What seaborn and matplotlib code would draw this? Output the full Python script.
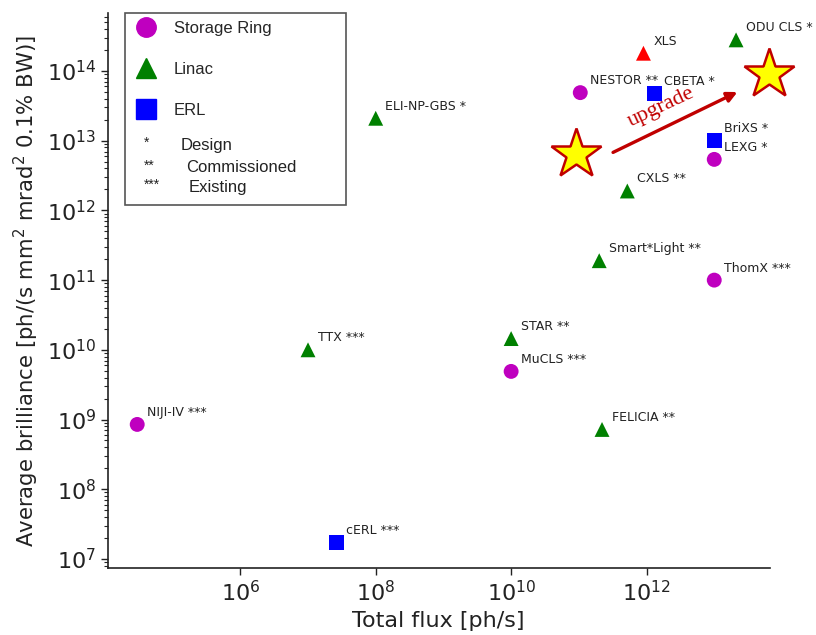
import matplotlib
matplotlib.use("Agg")
import matplotlib.pyplot as plt
import seaborn as sns
import pandas as pd
import numpy as np
from matplotlib.lines import Line2D
from matplotlib.patches import Rectangle
from matplotlib.ticker import NullLocator, FixedLocator

# ---------------- data ----------------
names = ["NIJI-IV ***", "TTX ***", "ELI-NP-GBS *", "cERL ***", "STAR **",
         "MuCLS ***", "FELICIA **", "Smart*Light **", "CXLS **", "ThomX ***",
         "LEXG *", "BriXS *", "NESTOR **", "CBETA *", "XLS", "ODU CLS *"]
types = ["Storage Ring", "Linac", "Linac", "ERL", "Linac",
         "Storage Ring", "Linac", "Linac", "Linac", "Storage Ring",
         "Storage Ring", "ERL", "Storage Ring", "ERL", "XLS", "Linac"]
flux = [3e4, 1e7, 1e8, 2.6e7, 1e10,
        1e10, 2.2e11, 2e11, 5.2e11, 1e13,
        1e13, 1e13, 1.05e11, 1.3e12, 9e11, 2.1e13]
brilliance = [8.5e8, 1e10, 2.1e13, 1.7e7, 1.45e10,
              4.9e9, 7.2e8, 1.9e11, 1.9e12, 1e11,
              5.4e12, 1e13, 4.9e13, 4.8e13, 1.8e14, 2.8e14]

star_flux = [9e10, 6.5e13]
star_brilliance = [6.5e12, 9e13]
arrow_start = (3.2e11, 6.8e12)
arrow_end = (2.2e13, 5e13)
upgrade_pos = (1.65e12, 3.0e13)

legend_labels = ["Storage Ring", "Linac", "ERL"]
status_marks = ["*", "**", "***"]
status_labels = ["Design", "Commissioned", "Existing"]

x_ticks = [1e6, 1e8, 1e10, 1e12]
y_ticks = [1e7, 1e8, 1e9, 1e10, 1e11, 1e12, 1e13, 1e14]

# ---------------- style ----------------
sns.set_style("ticks")
plt.rcParams["font.family"] = ["DejaVu Sans"]

palette = {"Storage Ring": "#bf00bf", "Linac": "#008000", "ERL": "#0000ff", "XLS": "#ff0000"}
markers = {"Storage Ring": "o", "Linac": "^", "ERL": "s", "XLS": "^"}

df = pd.DataFrame({"name": names, "type": types, "flux": flux, "brilliance": brilliance})

fig = plt.figure(figsize=(8.16, 6.35), dpi=100)
ax = fig.add_axes([0.132, 0.1055, 0.8113, 0.874])

sns.scatterplot(data=df, x="flux", y="brilliance", hue="type", style="type",
                palette=palette, markers=markers, s=115, linewidth=0,
                legend=False, ax=ax, zorder=3)

ax.set_xscale("log")
ax.set_yscale("log")
ylim = (7.4e6, 6.8e14)
ax.set_xlim(1.1e4, 6.6e13)
ax.set_ylim(*ylim)

for n, fx, by in zip(names, flux, brilliance):
    ax.annotate(n, (fx, by), xytext=(7, 4), textcoords="offset points",
                ha="left", va="bottom", fontsize=9, color="#222222")

# stars and upgrade arrow
ax.plot(star_flux, star_brilliance, linestyle="none", marker="*", markersize=38,
        markerfacecolor="#ffff00", markeredgecolor="#c00000", markeredgewidth=1.8,
        clip_on=False, zorder=4)
ax.annotate("", xy=arrow_end, xytext=arrow_start,
            arrowprops=dict(arrowstyle="-|>", color="#c00000", lw=2.4,
                            mutation_scale=15, shrinkA=0, shrinkB=0), zorder=4)
ax.text(upgrade_pos[0], upgrade_pos[1], "upgrade", rotation=25, rotation_mode="anchor",
        ha="center", va="center", fontsize=16, color="#c00000", family="Liberation Serif")

# axes styling
sns.despine(ax=ax)
ax.xaxis.set_major_locator(FixedLocator(x_ticks))
ax.xaxis.set_minor_locator(NullLocator())
ax.yaxis.set_major_locator(FixedLocator(y_ticks))
minor_y = [m * 10.0 ** d for d in range(6, 15) for m in range(2, 10)]
minor_y = [v for v in minor_y if ylim[0] <= v <= ylim[1]]
ax.yaxis.set_minor_locator(FixedLocator(minor_y))
ax.tick_params(axis="both", which="major", labelsize=16, length=5, width=1, colors="#222222")
ax.tick_params(axis="y", which="minor", length=3, width=0.8, labelleft=False)
for sp in ax.spines.values():
    sp.set_color("#222222")
    sp.set_linewidth(1.2)

ax.set_xlabel("Total flux [ph/s]", fontsize=16, color="#222222", labelpad=4)
ax.set_ylabel("Average brilliance [ph/(s mm$^2$ mrad$^2$ 0.1% BW)]", fontsize=15.3,
              color="#222222", labelpad=4)

# legend box
ax.add_patch(Rectangle((0.026, 0.654), 0.334, 0.346, transform=ax.transAxes,
                       facecolor="white", edgecolor="#555555", lw=1.2, zorder=5, clip_on=False))
handles = [Line2D([], [], linestyle="none", marker=markers[k], color=palette[k], markersize=14)
           for k in legend_labels]
leg = ax.legend(handles, legend_labels, loc="upper left", bbox_to_anchor=(0.026, 1.0),
                frameon=False, prop={"family": "Liberation Sans", "size": 12},
                labelspacing=1.56, handletextpad=0.9, handlelength=1.6, borderpad=0.45,
                borderaxespad=0)
leg.set_zorder(6)
status_y = [0.762, 0.721, 0.686]
status_x = [0.110, 0.118, 0.122]
for mark, lab, yy, xx in zip(status_marks, status_labels, status_y, status_x):
    ax.text(0.054, yy + 0.004, mark, transform=ax.transAxes, fontsize=10,
            family="Liberation Sans", va="center", ha="left", color="#222222", zorder=6)
    ax.text(xx, yy, lab, transform=ax.transAxes, fontsize=12,
            family="Liberation Sans", va="center", ha="left", color="#222222", zorder=6)

fig.savefig("out.png", dpi=100)
